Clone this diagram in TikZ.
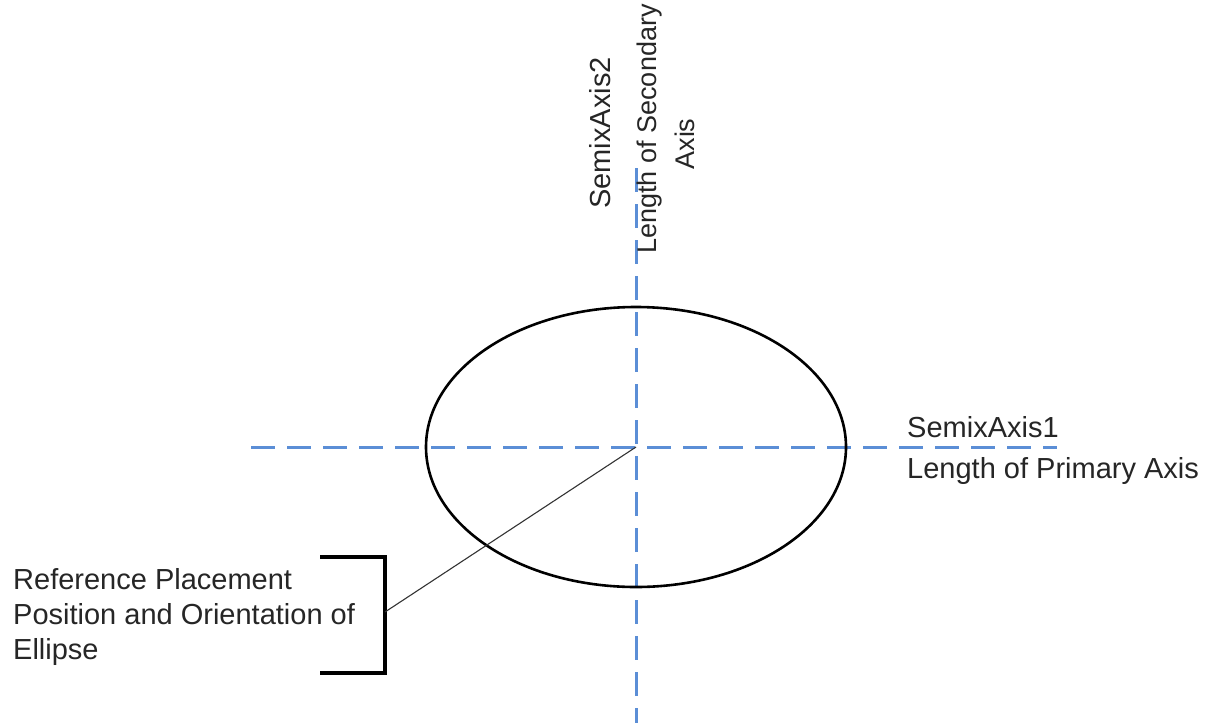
\documentclass[tikz,border=0pt]{standalone}
\usepackage{fontspec}
\setmainfont{Liberation Sans}
\definecolor{axisblue}{RGB}{91,142,214}
\begin{document}
\begin{tikzpicture}[x=1pt,y=-1pt,
  axisline/.style={draw=axisblue,line width=3pt,dash pattern=on 24pt off 12pt},
  shapeline/.style={draw=black,line width=2.6pt},
  bracketline/.style={draw=black,line width=4.5pt},
  leader/.style={draw=black!80,line width=1.1pt},
  lbl/.style={inner sep=0pt,text=black!85,font=\fontsize{29}{35}\selectfont},
  lblsmall/.style={inner sep=0pt,text=black!85,font=\fontsize{27}{38}\selectfont}]
\useasboundingbox (0,0) rectangle (1206,723);
\fill[white] (0,0) rectangle (1206,723);

\coordinate (c) at (636,447);
\coordinate (hl) at (251,447);
\coordinate (hr) at (1057,447);
\coordinate (vt) at (636,168);
\coordinate (vb) at (636,723);

% axes
\draw[axisline] (hl) -- (hr);
\draw[axisline] (vt) -- (vb);

% ellipse
\draw[shapeline] (c) ellipse [x radius=210pt, y radius=140pt];

% bracket
\coordinate (bt) at (320,557);
\coordinate (bb) at (320,673);
\coordinate (bm) at (385,612);
\draw[bracketline] (bt) -- (385,557) -- (385,673) -- (bb);
\draw[leader] (c) -- (bm);

% labels
\node[lbl,anchor=base west] (s1) at (907,437) {SemixAxis1};
\node[lbl,anchor=base west] (p1) at (907,478) {Length of Primary Axis};
\node[lbl,rotate=90,anchor=base] (s2) at (610,133) {SemixAxis2};
\node[lblsmall,rotate=90,align=center] (p2) at (666,129) {Length of Secondary\\Axis\hspace*{30pt}};
\node[lbl,anchor=north west,align=left] (ref) at (13,568) {Reference Placement\\Position and Orientation of\\Ellipse};
\end{tikzpicture}
\end{document}
